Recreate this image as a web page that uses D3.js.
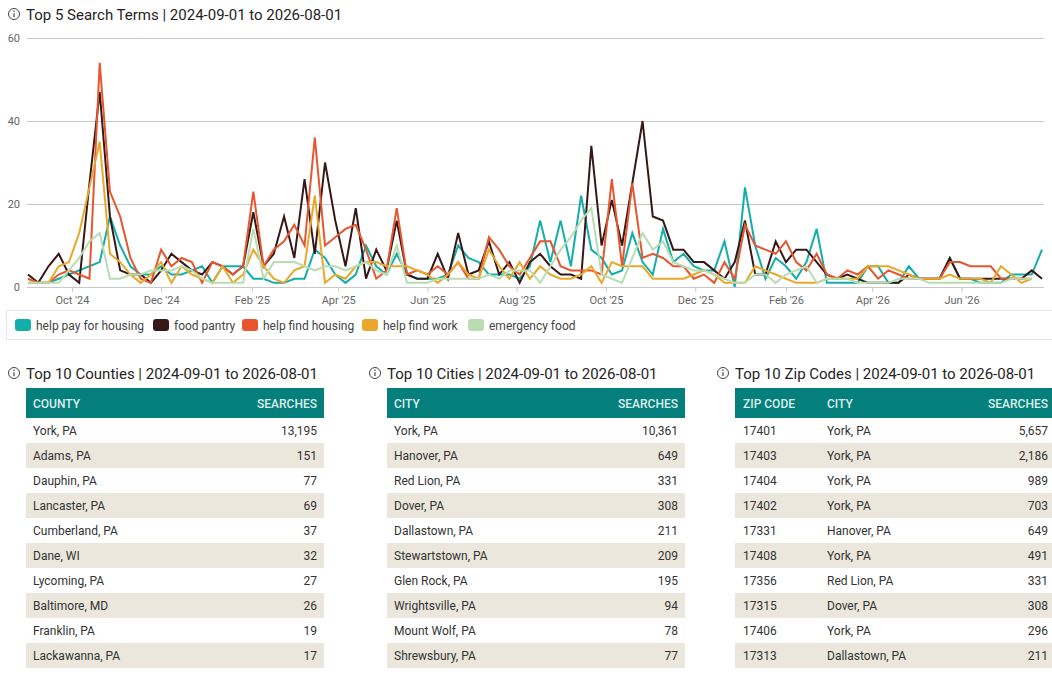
<!DOCTYPE html>
<html>
<head>
<meta charset="utf-8">
<script src="https://cdn.jsdelivr.net/npm/d3@7"></script>
<style>
  body { margin: 0; background: #fff; font-family: Roboto, "DejaVu Sans", sans-serif; }
  svg text { font-family: Roboto, "DejaVu Sans", sans-serif; }
</style>
</head>
<body>
<div id="chart"></div>
<script>
// weekly search counts, one value per week starting 2024-09-01
var payHousing = [1,1,1,2,3,4,5,6,17,10,5,3,3,5,3,3,4,5,1,5,5,5,2,2,1,1,2,2,9,7,
  3,1,3,10,5,3,8,3,2,2,2,3,10,7,6,3,3,3,2,5,16,6,16,5,22,9,7,3,4,13,
  6,3,14,6,8,5,4,4,11,0,24,10,2,7,5,2,6,14,1,1,1,1,5,5,1,1,5,2,2,2,
  7,2,2,1,1,1,3,3,3,9];
var foodPantry = [3,1,5,8,3,1,25,47,17,4,3,3,1,4,8,6,4,3,6,5,3,5,18,5,8,17,7,26,8,30,
  16,5,19,2,9,4,16,3,2,2,8,2,13,3,4,11,3,6,1,6,8,5,3,3,2,34,10,21,10,25,
  40,17,16,9,9,6,6,4,2,6,16,3,3,11,6,9,9,6,3,2,3,2,1,1,1,1,3,2,2,2,
  7,2,2,2,2,2,2,2,4,2];
var findHousing = [2,1,1,3,4,3,2,54,23,17,7,2,1,9,5,7,6,1,6,5,3,5,23,5,9,11,15,10,36,10,
  12,14,15,9,2,4,19,3,4,3,5,3,6,2,2,12,9,5,3,7,11,11,5,4,4,4,3,26,5,25,
  7,8,7,5,5,2,3,1,6,2,15,10,9,8,11,6,4,8,3,2,4,3,5,2,4,3,2,2,2,2,
  6,6,5,5,5,2,2,2,2,null];
var findWork = [1,1,1,5,6,13,24,35,8,6,3,1,3,6,1,5,3,2,1,5,1,3,9,5,2,1,4,5,22,1,
  3,2,5,6,6,5,5,5,4,3,1,3,6,3,2,9,5,2,6,2,5,3,2,2,3,5,1,6,5,5,
  5,2,2,2,2,3,4,3,1,1,1,5,4,3,2,1,1,1,2,2,2,2,5,5,5,4,3,2,2,2,
  3,2,2,2,1,5,3,1,2,null];
var emergencyFood = [1,1,1,1,4,7,11,13,2,2,3,3,4,4,4,5,4,2,1,1,1,1,14,2,6,6,6,5,4,5,
  5,4,5,6,4,3,10,1,1,1,2,2,2,2,2,3,2,4,4,4,1,5,9,12,16,19,3,2,1,7,
  13,9,11,6,5,4,4,3,2,1,1,3,3,1,3,4,5,1,2,2,2,1,1,1,1,2,2,2,1,1,
  1,1,1,1,1,1,2,2,2,null];

var seriesNames = ["help pay for housing", "food pantry", "help find housing", "help find work", "emergency food"];
var seriesColors = ["#13aea9", "#361818", "#e6562f", "#e9a82a", "#b9dcb3"];
var seriesValues = [payHousing, foodPantry, findHousing, findWork, emergencyFood];

var weeks = d3.timeWeek.range(new Date(2024, 8, 1), new Date(2026, 6, 27));
var xTicks = ["2024-10-01","2024-12-01","2025-02-01","2025-04-01","2025-06-01","2025-08-01",
  "2025-10-01","2025-12-01","2026-02-01","2026-04-01","2026-06-01"];
var yTicks = [0, 20, 40, 60];

var counties = ["York, PA","Adams, PA","Dauphin, PA","Lancaster, PA","Cumberland, PA","Dane, WI","Lycoming, PA","Baltimore, MD","Franklin, PA","Lackawanna, PA"];
var countySearches = [13195,151,77,69,37,32,27,26,19,17];
var cities = ["York, PA","Hanover, PA","Red Lion, PA","Dover, PA","Dallastown, PA","Stewartstown, PA","Glen Rock, PA","Wrightsville, PA","Mount Wolf, PA","Shrewsbury, PA"];
var citySearches = [10361,649,331,308,211,209,195,94,78,77];
var zipCodes = ["17401","17403","17404","17402","17331","17408","17356","17315","17406","17313"];
var zipCities = ["York, PA","York, PA","York, PA","York, PA","Hanover, PA","York, PA","Red Lion, PA","Dover, PA","York, PA","Dallastown, PA"];
var zipSearches = [5657,2186,989,703,649,491,331,308,296,211];

var svg = d3.select("#chart").append("svg")
    .attr("width", 1052)
    .attr("height", 675);

function infoTitle(x, y, label) {
    var g = svg.append("g").attr("transform", "translate(" + x + "," + y + ")");
    g.append("circle").attr("r", 5.5).attr("fill", "none").attr("stroke", "#444").attr("stroke-width", 1);
    g.append("line").attr("x1", 0).attr("x2", 0).attr("y1", -0.8).attr("y2", 3)
        .attr("stroke", "#444").attr("stroke-width", 1.2);
    g.append("circle").attr("cx", 0).attr("cy", -2.7).attr("r", 0.8).attr("fill", "#444");
    g.append("text").attr("x", 12).attr("y", 5.5)
        .attr("font-size", 15).attr("fill", "#252423").text(label);
}

infoTitle(14, 14, "Top 5 Search Terms | 2024-09-01 to 2026-08-01");

// line chart
var x = d3.scaleTime()
    .domain([weeks[0], weeks[weeks.length - 1]])
    .range([28, 1042]);
var y = d3.scaleLinear().domain([0, 60]).range([287, 38]);

svg.append("g")
    .attr("transform", "translate(27,0)")
    .call(d3.axisLeft(y).tickValues(yTicks).tickSize(-1017).tickFormat(d3.format("d")))
    .call(function(g) {
        g.select(".domain").remove();
        g.selectAll(".tick line").attr("stroke", "#c8c8c8");
        g.selectAll(".tick text").attr("x", -7).attr("fill", "#666").attr("font-size", 11)
            .style("font-family", "Roboto, sans-serif");
    });

svg.append("g")
    .attr("transform", "translate(0,287)")
    .call(d3.axisBottom(x).tickValues(xTicks.map(function(d) { return d3.timeParse("%Y-%m-%d")(d); }))
        .tickSize(5).tickPadding(4).tickFormat(d3.timeFormat("%b '%y")))
    .call(function(g) {
        g.select(".domain").remove();
        g.selectAll(".tick line").attr("stroke", "#c8c8c8");
        g.selectAll(".tick text").attr("fill", "#666").attr("font-size", 11)
            .style("font-family", "Roboto, sans-serif");
    });

var line = d3.line()
    .defined(function(d) { return d != null; })
    .x(function(d, i) { return x(weeks[i]); })
    .y(function(d) { return y(d); });

seriesValues.forEach(function(vals, k) {
    svg.append("path")
        .datum(vals)
        .attr("fill", "none")
        .attr("stroke", seriesColors[k])
        .attr("stroke-width", 2)
        .attr("d", line);
});

// legend
svg.append("rect")
    .attr("x", 6.5).attr("y", 310.5).attr("width", 1050).attr("height", 29)
    .attr("fill", "none").attr("stroke", "#e6e6e6");
var legendX = [15, 153, 242, 362, 468];
seriesNames.forEach(function(name, k) {
    var g = svg.append("g").attr("transform", "translate(" + legendX[k] + ",319)");
    g.append("rect").attr("width", 16).attr("height", 12).attr("rx", 3)
        .attr("fill", seriesColors[k]);
    g.append("text").attr("x", 21).attr("y", 10.5)
        .attr("font-size", 12).attr("fill", "#444").text(name);
});

// tables
function drawTable(left, width, title, columns, rows) {
    infoTitle(left - 12, 373, title);
    svg.append("rect").attr("x", left).attr("y", 388).attr("width", width).attr("height", 30)
        .attr("fill", "#047f7b");
    columns.forEach(function(c) {
        svg.append("text")
            .attr("x", left + c.x)
            .attr("y", 408)
            .attr("text-anchor", c.right ? "end" : "start")
            .attr("font-size", 12).attr("font-weight", 500)
            .attr("fill", "#dcefec").text(c.name);
    });
    rows.forEach(function(r, i) {
        var top = 418 + i * 25;
        svg.append("rect").attr("x", left).attr("y", top).attr("width", width).attr("height", 25)
            .attr("fill", i % 2 ? "#ebe7dd" : "#ffffff");
        columns.forEach(function(c, j) {
            svg.append("text")
                .attr("x", left + c.x)
                .attr("y", top + 17)
                .attr("text-anchor", c.right ? "end" : "start")
                .attr("font-size", 12).attr("fill", "#333")
                .text(r[j]);
        });
    });
}

var fmt = d3.format(",");
drawTable(26, 298, "Top 10 Counties | 2024-09-01 to 2026-08-01",
    [{name: "COUNTY", x: 7}, {name: "SEARCHES", x: 291, right: true}],
    counties.map(function(d, i) { return [d, fmt(countySearches[i])]; }));
drawTable(387, 298, "Top 10 Cities | 2024-09-01 to 2026-08-01",
    [{name: "CITY", x: 7}, {name: "SEARCHES", x: 291, right: true}],
    cities.map(function(d, i) { return [d, fmt(citySearches[i])]; }));
drawTable(735, 317, "Top 10 Zip Codes | 2024-09-01 to 2026-08-01",
    [{name: "ZIP CODE", x: 8}, {name: "CITY", x: 92}, {name: "SEARCHES", x: 313, right: true}],
    zipCodes.map(function(d, i) { return [d, zipCities[i], fmt(zipSearches[i])]; }));
</script>
</body>
</html>
